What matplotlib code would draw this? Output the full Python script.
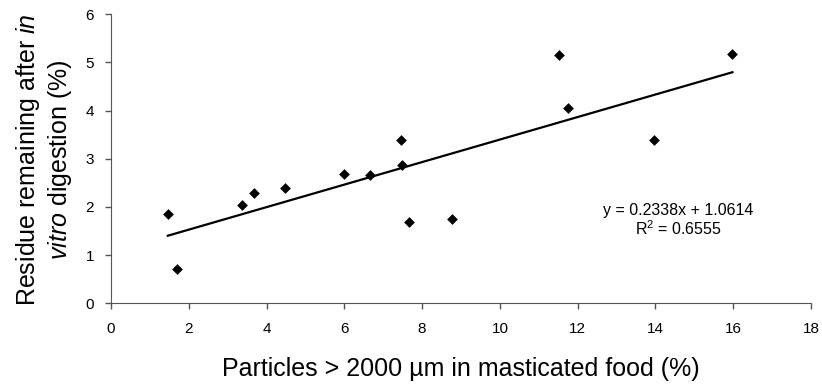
import matplotlib
matplotlib.use("Agg")
import matplotlib.pyplot as plt
import numpy as np

plt.rcParams['font.family'] = ['Liberation Sans', 'DejaVu Sans']
plt.rcParams['mathtext.fontset'] = 'custom'
plt.rcParams['mathtext.rm'] = 'Liberation Sans'
plt.rcParams['mathtext.it'] = 'Liberation Sans:italic'

particles = [1.46, 1.70, 3.36, 3.68, 4.47, 5.99, 6.66, 7.46, 7.49, 7.66, 8.78, 11.53, 11.76, 13.96, 15.98]
residue = [1.86, 0.71, 2.04, 2.30, 2.40, 2.68, 2.66, 3.39, 2.87, 1.69, 1.76, 5.15, 4.05, 3.39, 5.18]
slope, intercept = 0.2338, 1.0614
eq_text = "y = 0.2338x + 1.0614"
r2_text = "R$^{2}$ = 0.6555"
xticks = list(range(0, 20, 2))
yticks = list(range(0, 7))
xlabel = "Particles > 2000 µm in masticated food (%)"
ylabel = "Residue remaining after $\\mathit{in}$\n$\\mathit{vitro}$ digestion (%)"

W, H = 822, 384
fig = plt.figure(figsize=(W / 100, H / 100), dpi=100)
ax = fig.add_axes([111 / W, 1 - 303.3 / H, 700 / W, 289 / H])

ax.scatter(particles, residue, marker='D', s=30, color='black', zorder=3, linewidths=0)
xl = np.array([min(particles), max(particles)])
ax.plot(xl, slope * xl + intercept, color='black', lw=1.6)

ax.set_xlim(0, 18)
ax.set_ylim(0, 6)
ax.set_xticks(xticks)
ax.set_yticks(yticks)
ax.tick_params(labelsize=11, length=4.3, color='#555555', width=1)
ax.tick_params(axis='x', pad=9)
ax.tick_params(axis='y', pad=8)
for s in ['top', 'right']:
    ax.spines[s].set_visible(False)
for s in ['left', 'bottom']:
    ax.spines[s].set_color('#555555')

fig.text(461 / W, 1 - 376 / H, xlabel, ha='center', va='baseline', fontsize=18)
fig.text(44 / W, 1 - 160 / H, ylabel, ha='center', va='center', rotation=90,
         multialignment='center', fontsize=18, linespacing=1.15)

ax.text(14.58, 1.833, eq_text, ha='center', va='baseline', fontsize=11.5)
ax.text(14.58, 1.418, r2_text, ha='center', va='baseline', fontsize=11.5)

fig.savefig("out.png", dpi=100)
